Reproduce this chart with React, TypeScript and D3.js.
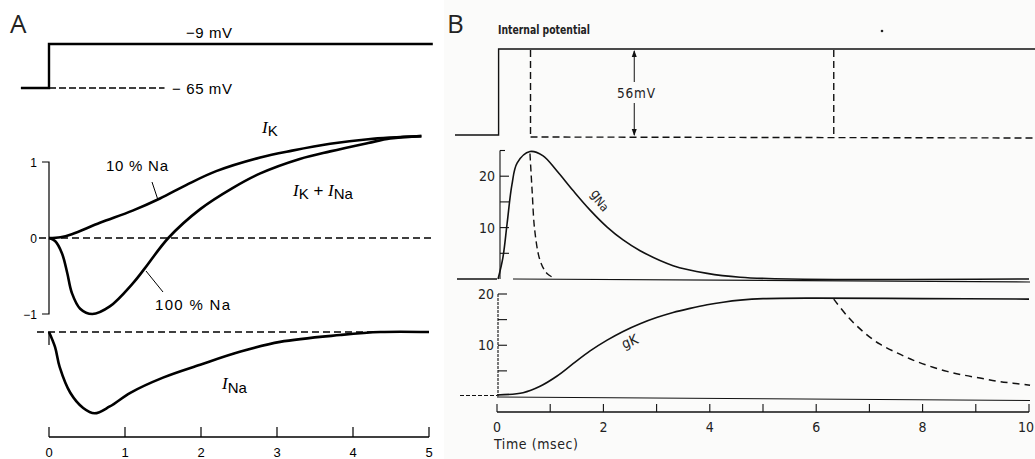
import React from "react";
import * as d3 from "d3";

// ---------- Panel A data ----------
const aTicksX = [0, 1, 2, 3, 4, 5];
const aTicksY = [1, 0, -1];
const aIK10T = [0, 0.15, 0.3, 0.67, 1.1, 1.46, 1.81, 2.2, 2.78, 3.2, 3.7, 4.2, 4.9];
const aIK10V = [0, 0.01, 0.05, 0.2, 0.36, 0.52, 0.7, 0.88, 1.06, 1.15, 1.24, 1.3, 1.34];
const aIK100T = [0, 0.08, 0.17, 0.24, 0.3, 0.41, 0.57, 0.8, 1.1, 1.26, 1.57, 1.99, 2.42, 2.78, 3.3, 3.7, 4.2, 4.49, 4.9];
const aIK100V = [0, -0.04, -0.2, -0.46, -0.72, -0.93, -1.0, -0.9, -0.6, -0.4, 0, 0.38, 0.66, 0.85, 1.04, 1.14, 1.25, 1.31, 1.34];
const aINaT = [0, 0.08, 0.14, 0.28, 0.45, 0.6, 0.8, 1.07, 1.5, 1.99, 2.51, 3.04, 3.83, 4.36, 5.0];
const aINaV = [0, -0.2, -0.46, -0.8, -1.0, -1.07, -0.98, -0.8, -0.6, -0.43, -0.26, -0.13, -0.04, 0, 0];
const aVoltT = [-0.37, 0, 0, 5.05];
const aVoltV = [-65, -65, -9, -9];

// ---------- Panel B data ----------
const bTicksX = [0, 1, 2, 3, 4, 5, 6, 7, 8, 9, 10];
const bLabelsX = [0, 2, 4, 6, 8, 10];
const bTicksNa = [5, 10, 15, 20, 25];
const bLabelsNa = [10, 20];
const bTicksK = [5, 10, 15, 20];
const bLabelsK = [10, 20];
const bVoltT = [-0.79, 0.03, 0.03, 10.3];
const bVoltV = [0, 0, 56, 56];
const bRepolT = [0.63, 6.33];
const bArrowT = 2.58;
const bGNaT = [0.02, 0.11, 0.19, 0.28, 0.38, 0.62, 0.86, 1.12, 1.43, 1.75, 2.07, 2.37, 2.69, 3.31, 3.95, 4.57, 5.5, 10.0];
const bGNaV = [0, 4.1, 10.8, 18.3, 22.6, 24.8, 24.0, 21.1, 17.2, 13.4, 10.1, 7.6, 5.5, 2.6, 1.1, 0.35, 0, 0];
const bGNaDashT = [0.62, 0.66, 0.71, 0.81, 0.94, 1.09];
const bGNaDashV = [24.4, 17.2, 9.4, 3.6, 1.07, 0.1];
const bGKT = [0, 0.49, 0.81, 1.13, 1.43, 1.75, 2.07, 2.37, 2.69, 3.0, 3.31, 3.63, 3.95, 4.25, 4.57, 5.0, 6.0, 8.0, 10.0];
const bGKV = [0.3, 0.75, 2.0, 4.0, 6.4, 8.9, 11.0, 12.7, 14.2, 15.4, 16.4, 17.2, 17.9, 18.4, 18.8, 19.1, 19.2, 19.1, 19.0];
const bGKDashT = [6.33, 6.6, 6.9, 7.2, 7.52, 7.82, 8.14, 8.46, 8.76, 9.08, 9.4, 9.7, 10.02];
const bGKDashV = [19.0, 15.5, 12.5, 10.2, 8.5, 7.1, 5.9, 4.9, 4.2, 3.6, 3.0, 2.6, 2.2];

const zip = (t: number[], v: number[]) => t.map((d, i) => [d, v[i]] as [number, number]);

export default function App() {
  // scales A
  const xA = d3.scaleLinear().domain([0, 5]).range([49, 429]);
  const yMid = d3.scaleLinear().domain([-1, 1]).range([314, 162]);
  const yNa = d3.scaleLinear().domain([-1, 0]).range([408, 332]);
  const yVA = d3.scaleLinear().domain([-65, -9]).range([88, 44]);
  // scales B
  const xB = d3.scaleLinear().domain([0, 10]).range([497, 1029]);
  const yG = d3.scaleLinear().domain([0, 25]).range([279, 150.5]);
  const yK = d3.scaleLinear().domain([0, 20]).range([396.5, 294]);
  const yVB = d3.scaleLinear().domain([0, 56]).range([135, 49]);

  const smooth = (xs: any, ys: any) =>
    d3.line<[number, number]>().x((d) => xs(d[0])).y((d) => ys(d[1])).curve(d3.curveCatmullRom.alpha(0.5));
  const linear = (xs: any, ys: any) =>
    d3.line<[number, number]>().x((d) => xs(d[0])).y((d) => ys(d[1]));

  const sansA = "'Liberation Sans', Arial, sans-serif";
  const serifI = "'Liberation Serif', serif";
  const fontB = "'DejaVu Sans Condensed', 'DejaVu Sans', sans-serif";

  const bRepolY = yVB(0) + 2;

  return (
    <svg width={1035} height={459} style={{ position: "absolute", left: 0, top: 0, background: "#fff" }}>
      <rect x={444} y={0} width={591} height={459} fill="#fbfbfa" />

      {/* ===================== Panel A ===================== */}
      <text x={10} y={33} fontFamily="'Open Sans', sans-serif" fontSize={26} fill="#222">A</text>

      {/* voltage step */}
      <path d={linear(xA, yVA)(zip(aVoltT, aVoltV)) || ""} fill="none" stroke="#000" strokeWidth={2.4} />
      <line x1={xA(0)} x2={xA(1.52)} y1={yVA(-65)} y2={yVA(-65)} stroke="#000" strokeWidth={1.6} strokeDasharray="7,3" />
      <text x={186} y={38} fontFamily={sansA} fontSize={15} textLength={46}>−9 mV</text>
      <text x={172} y={94} fontFamily={sansA} fontSize={15} textLength={60}>− 65 mV</text>

      {/* middle y axis */}
      <path d={`M${xA(0) - 7},${yMid(1)}H${xA(0)}V${yMid(-1)}H${xA(0) - 7}`} fill="none" stroke="#000" strokeWidth={1.2} />
      {aTicksY.map((v) => (
        <text key={v} x={xA(0) - 12} y={yMid(v) + 4.5} fontFamily={sansA} fontSize={12} textAnchor="end">
          {v === -1 ? "−1" : v === 1 ? "1" : "0"}
        </text>
      ))}
      <line x1={xA(0) - 10} x2={432} y1={yMid(0)} y2={yMid(0)} stroke="#000" strokeWidth={1.5} strokeDasharray="7,4" />

      {/* currents */}
      <path d={smooth(xA, yMid)(zip(aIK10T, aIK10V)) || ""} fill="none" stroke="#000" strokeWidth={2.6} />
      <path d={smooth(xA, yMid)(zip(aIK100T, aIK100V)) || ""} fill="none" stroke="#000" strokeWidth={2.6} />

      {/* labels middle */}
      <text x={262} y={133} fontFamily={sansA} fontSize={17}>
        <tspan fontStyle="italic" fontFamily={serifI}>I</tspan>
        <tspan dy={3} fontSize={15}>K</tspan>
      </text>
      <text x={106} y={171} fontFamily={sansA} fontSize={15} textLength={62}>10 % Na</text>
      <line x1={152} x2={158} y1={182} y2={200} stroke="#000" strokeWidth={1} />
      <text x={293} y={196} fontFamily={sansA} fontSize={17}>
        <tspan fontStyle="italic" fontFamily={serifI}>I</tspan>
        <tspan dy={3} fontSize={15}>K</tspan>
        <tspan dy={-3}> + </tspan>
        <tspan fontStyle="italic" fontFamily={serifI}>I</tspan>
        <tspan dy={3} fontSize={15}>Na</tspan>
      </text>
      <text x={155} y={310} fontFamily={sansA} fontSize={15} textLength={75}>100 % Na</text>
      <line x1={146} x2={163} y1={271} y2={292} stroke="#000" strokeWidth={1} />

      {/* I_Na panel */}
      <line x1={37} x2={432} y1={yNa(0)} y2={yNa(0)} stroke="#000" strokeWidth={1.5} strokeDasharray="7,4" />
      <line x1={xA(0)} x2={xA(0)} y1={yNa(0)} y2={yNa(0) + 13} stroke="#000" strokeWidth={1.2} />
      <path d={smooth(xA, yNa)(zip(aINaT, aINaV)) || ""} fill="none" stroke="#000" strokeWidth={2.6} />
      <text x={222} y={389} fontFamily={sansA} fontSize={17}>
        <tspan fontStyle="italic" fontFamily={serifI}>I</tspan>
        <tspan dy={4} fontSize={15}>Na</tspan>
      </text>

      {/* time axis A */}
      <line x1={xA(0)} x2={xA(5)} y1={437} y2={437} stroke="#000" strokeWidth={1.4} />
      {aTicksX.map((t) => (
        <g key={t}>
          <line x1={xA(t)} x2={xA(t)} y1={437} y2={427} stroke="#000" strokeWidth={1.2} />
          <text x={xA(t)} y={457} fontFamily={sansA} fontSize={13} textAnchor="middle">{t}</text>
        </g>
      ))}

      {/* ===================== Panel B ===================== */}
      <text x={447} y={33} fontFamily="'Open Sans', sans-serif" fontSize={26} fill="#222">B</text>
      <text x={498} y={34} fontFamily="'Liberation Sans Narrow', 'DejaVu Sans Condensed', sans-serif" fontSize={13}
        fontWeight="bold" fill="#222" textLength={92} lengthAdjust="spacingAndGlyphs">Internal potential</text>
      <circle cx={882} cy={31} r={1.3} fill="#222" />

      {/* voltage */}
      <path d={linear(xB, yVB)(zip(bVoltT, bVoltV)) || ""} fill="none" stroke="#111" strokeWidth={1.4} />
      {bRepolT.map((t) => (
        <line key={t} x1={xB(t)} x2={xB(t)} y1={yVB(56) + 1} y2={bRepolY} stroke="#111" strokeWidth={1.4} strokeDasharray="7,4" />
      ))}
      <line x1={xB(bRepolT[0])} x2={1035} y1={bRepolY} y2={bRepolY + 1} stroke="#111" strokeWidth={1.4} strokeDasharray="7,4" />
      <line x1={xB(bArrowT)} x2={xB(bArrowT)} y1={yVB(56) + 2} y2={82} stroke="#111" strokeWidth={1} />
      <line x1={xB(bArrowT)} x2={xB(bArrowT)} y1={103} y2={bRepolY - 2} stroke="#111" strokeWidth={1} />
      <path d={`M${xB(bArrowT)},${yVB(56) + 1}l-2.5,7h5z`} fill="#111" />
      <path d={`M${xB(bArrowT)},${bRepolY - 1}l-2.5,-7h5z`} fill="#111" />
      <text x={617} y={98} fontFamily={fontB} fontSize={13.5} fill="#222" textLength={38}>56mV</text>

      {/* gNa panel */}
      <line x1={457} x2={497} y1={yG(0)} y2={yG(0)} stroke="#111" strokeWidth={1.3} />
      <line x1={513} x2={1030} y1={yG(0)} y2={yG(0) + 3} stroke="#111" strokeWidth={1.2} />
      <line x1={500} x2={500} y1={yG(25)} y2={yG(0)} stroke="#111" strokeWidth={1.1} />
      {bTicksNa.map((v) => (
        <line key={v} x1={500} x2={v === 25 ? 505 : 509} y1={yG(v)} y2={yG(v)} stroke="#111" strokeWidth={1.1} />
      ))}
      {bLabelsNa.map((v) => (
        <text key={v} x={495} y={yG(v) + 5} fontFamily={fontB} fontSize={14} textAnchor="end" fill="#222">{v}</text>
      ))}
      <path d={smooth(xB, yG)(zip(bGNaT, bGNaV)) || ""} fill="none" stroke="#111" strokeWidth={1.6} />
      <path d={smooth(xB, yG)(zip(bGNaDashT, bGNaDashV)) || ""} fill="none" stroke="#111" strokeWidth={1.4} strokeDasharray="7,4" />
      <text x={0} y={0} fontFamily={fontB} fontSize={14} fill="#222" transform="translate(590,194) rotate(49)">
        g<tspan fontSize={12} dy={2}>Na</tspan>
      </text>

      {/* gK panel */}
      <line x1={460} x2={497} y1={yK(0) - 1} y2={yK(0) - 1} stroke="#111" strokeWidth={1.2} strokeDasharray="4,2" />
      <line x1={497} x2={1030} y1={yK(0) + 0.5} y2={yK(0) + 4} stroke="#111" strokeWidth={1} />
      <line x1={498} x2={498} y1={yK(20)} y2={yK(0)} stroke="#111" strokeWidth={1.1} strokeDasharray="3,1" />
      {bTicksK.map((v) => (
        <line key={v} x1={498} x2={507} y1={yK(v)} y2={yK(v)} stroke="#111" strokeWidth={1.1} />
      ))}
      {bLabelsK.map((v) => (
        <text key={v} x={494} y={yK(v) + 5} fontFamily={fontB} fontSize={14} textAnchor="end" fill="#222">{v}</text>
      ))}
      <path d={smooth(xB, yK)(zip(bGKT, bGKV)) || ""} fill="none" stroke="#111" strokeWidth={1.6} />
      <path d={smooth(xB, yK)(zip(bGKDashT, bGKDashV)) || ""} fill="none" stroke="#111" strokeWidth={1.5} strokeDasharray="7,5" />
      <text x={0} y={0} fontFamily={fontB} fontSize={14} fill="#222" transform="translate(624,349) rotate(-22)">
        gK
      </text>

      {/* time axis B */}
      <line x1={xB(0)} x2={xB(10)} y1={412} y2={412} stroke="#111" strokeWidth={1.3} />
      {bTicksX.map((t) => (
        <line key={t} x1={xB(t)} x2={xB(t)} y1={412} y2={404} stroke="#111" strokeWidth={1.1} />
      ))}
      {bLabelsX.map((t) => (
        <text key={t} x={t === 10 ? 1034 : xB(t)} y={432} fontFamily={fontB} fontSize={14}
          textAnchor={t === 10 ? "end" : "middle"} fill="#222">{t}</text>
      ))}
      <text x={494} y={449} fontFamily={fontB} fontSize={14} fill="#222" textLength={84}>Time  (msec)</text>
    </svg>
  );
}
